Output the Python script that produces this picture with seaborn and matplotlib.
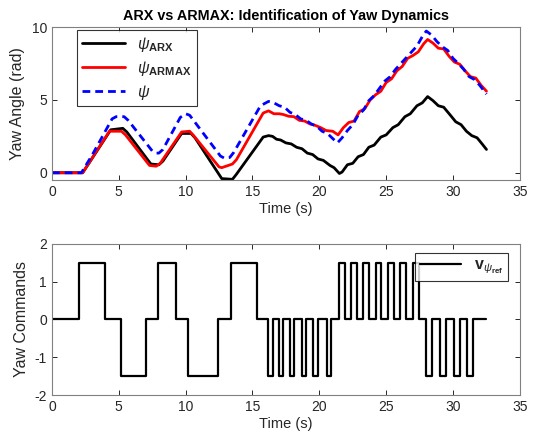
import matplotlib
matplotlib.use("Agg")
import matplotlib.pyplot as plt
import pandas as pd
import seaborn as sns

# ---------------- top panel data ----------------
t_arx = [0, 2.3, 4.4, 5.3, 5.6, 7.4, 8.0, 8.3, 9.7, 10.4, 10.7, 12.7, 13.5, 13.8, 15.8, 16.2,
         16.5, 16.8, 17.1, 17.5, 17.9, 18.3, 18.7, 19.1, 19.5, 19.9, 20.3, 20.8, 21.1, 21.5,
         21.7, 22.1, 22.5, 22.9, 23.3, 23.7, 24.1, 24.6, 25.0, 25.5, 25.9, 26.4, 26.8, 27.3, 27.7, 28.1,
         28.5, 28.9, 29.3, 29.8, 30.2, 30.6, 31.0, 31.4, 31.8, 32.2, 32.5]
psi_arx = [0, 0, 2.95, 3.05, 2.8, 0.6, 0.55, 0.8, 2.7, 2.7, 2.4, -0.4, -0.45, -0.1, 2.45, 2.55,
           2.5, 2.3, 2.25, 2.05, 1.98, 1.75, 1.65, 1.35, 1.25, 0.95, 0.85, 0.5, 0.35, -0.05,
           0.05, 0.55, 0.65, 1.1, 1.25, 1.75, 1.9, 2.45, 2.6, 3.1, 3.3, 3.85, 4.05, 4.6, 4.8, 5.23,
           4.95, 4.6, 4.5, 3.95, 3.5, 3.3, 2.85, 2.55, 2.4, 1.95, 1.6]

t_armax = [0, 2.3, 4.3, 5.2, 5.5, 7.3, 7.8, 8.1, 9.7, 10.3, 10.6, 12.5, 12.7, 13.5, 13.8, 15.8, 16.2,
           16.6, 17.0, 17.3, 17.7, 18.1, 18.5, 18.9, 19.3, 19.7, 20.1, 20.5, 21.0, 21.4,
           21.8, 22.2, 22.6, 23.0, 23.4, 23.8, 24.2, 24.6, 25.0, 25.4, 25.8, 26.2, 26.6, 27.0, 27.4, 27.8, 28.1,
           28.5, 28.9, 29.3, 29.7, 30.1, 30.5, 30.9, 31.3, 31.7, 32.1, 32.5]
psi_armax = [0, 0, 2.85, 2.85, 2.6, 0.5, 0.45, 0.65, 2.8, 2.85, 2.55, 0.4, 0.35, 0.6, 0.9, 4.1, 4.25,
             4.05, 4.05, 4.0, 3.88, 3.85, 3.6, 3.55, 3.35, 3.25, 3.1, 2.9, 2.85, 2.6,
             3.1, 3.45, 3.55, 4.2, 4.4, 5.0, 5.35, 5.6, 6.2, 6.45, 7.0, 7.3, 7.85, 8.05, 8.3, 8.85, 9.15,
             8.9, 8.55, 8.5, 8.0, 7.6, 7.45, 7.0, 6.6, 6.5, 6.0, 5.6]

t_psi = [0, 2.2, 3.0, 4.5, 4.8, 5.4, 5.7, 7.5, 7.8, 8.0, 8.3, 9.6, 10.0, 10.3, 12.6, 12.9, 13.3, 13.6, 15.6, 16.2,
         16.6, 17.0, 17.4, 17.8, 18.2, 18.6, 19.0, 19.4, 19.8, 20.2, 20.6, 21.0, 21.35,
         21.7, 22.1, 22.5, 22.9, 23.3, 23.7, 24.1, 24.5, 24.9, 25.3, 25.7, 26.1, 26.5, 26.9, 27.3, 27.7, 28.0,
         28.4, 28.8, 29.2, 29.6, 30.0, 30.4, 30.8, 31.2, 31.6, 32.0, 32.5]
psi_true = [0, 0, 1.2, 3.7, 3.85, 3.85, 3.6, 1.5, 1.35, 1.35, 1.6, 3.8, 4.05, 3.95, 1.15, 1.0, 1.05, 1.4, 4.6, 4.9,
            4.8, 4.6, 4.5, 4.15, 4.0, 3.7, 3.6, 3.35, 3.2, 2.85, 2.7, 2.35, 2.05,
            2.4, 2.9, 3.3, 3.95, 4.3, 4.95, 5.3, 5.8, 6.3, 6.6, 7.1, 7.5, 7.9, 8.3, 8.7, 9.35, 9.73,
            9.45, 9.0, 8.65, 8.4, 7.85, 7.5, 7.1, 6.6, 6.4, 6.0, 5.4]

# ---------------- bottom panel data: command switch times / levels ----------------
cmd_t = [0, 2.0, 4.0, 5.2, 7.0, 7.9, 9.3, 10.2, 12.4, 13.4, 15.35,
         16.15, 16.5, 16.95, 17.3, 17.78, 18.13, 18.68, 19.03, 19.55, 19.9, 20.55, 20.9,
         21.5, 21.9, 22.4, 22.8, 23.3, 23.7, 24.2, 24.6, 25.15, 25.55, 26.05, 26.45, 27.0, 27.42,
         28.0, 28.4, 29.0, 29.45, 30.05, 30.5, 31.05, 31.5, 32.5]
cmd_v = [0, 1.5, 0, -1.5, 0, 1.5, 0, -1.5, 0, 1.5, 0,
         -1.5, 0, -1.5, 0, -1.5, 0, -1.5, 0, -1.5, 0, -1.5, 0,
         1.5, 0, 1.5, 0, 1.5, 0, 1.5, 0, 1.5, 0, 1.5, 0, 1.5, 0,
         -1.5, 0, -1.5, 0, -1.5, 0, -1.5, 0, 0]

x_ticks = [0, 5, 10, 15, 20, 25, 30, 35]
y1_ticks = [0, 5, 10]
y2_ticks = [-2, -1, 0, 1, 2]

# ---------------- style ----------------
sns.set_style("white")
plt.rcParams["font.family"] = ["Liberation Sans", "DejaVu Sans"]
plt.rcParams["mathtext.fontset"] = "custom"
plt.rcParams["mathtext.rm"] = "Liberation Sans"
plt.rcParams["mathtext.it"] = "Liberation Sans:italic"
plt.rcParams["mathtext.bf"] = "Liberation Sans:bold"
gray = "#262626"

fig = plt.figure(figsize=(5.41, 4.37), dpi=100)
ax1 = fig.add_axes([0.096, 0.588, 0.865, 0.350])
ax2 = fig.add_axes([0.096, 0.0954, 0.865, 0.347])

df_arx = pd.DataFrame({"t": t_arx, "v": psi_arx})
df_armax = pd.DataFrame({"t": t_armax, "v": psi_armax})
df_psi = pd.DataFrame({"t": t_psi, "v": psi_true})
df_cmd = pd.DataFrame({"t": cmd_t, "v": cmd_v})

sns.lineplot(data=df_arx, x="t", y="v", ax=ax1, color="black", lw=2, sort=False,
             estimator=None, label=r"$\psi_{\mathbf{ARX}}$")
sns.lineplot(data=df_armax, x="t", y="v", ax=ax1, color="#ff0000", lw=2, sort=False,
             estimator=None, label=r"$\psi_{\mathbf{ARMAX}}$")
sns.lineplot(data=df_psi, x="t", y="v", ax=ax1, color="#0000ff", lw=2, sort=False,
             estimator=None, dashes=False, label=r"$\psi$")
ax1.lines[2].set_dashes([2.8, 1.8])

sns.lineplot(data=df_cmd, x="t", y="v", ax=ax2, color="black", lw=1.6, sort=False,
             estimator=None, drawstyle="steps-post", label=r"$\mathbf{v}_{\psi_{\mathbf{ref}}}$")

for ax in (ax1, ax2):
    ax.set_xlim(0, 35)
    ax.set_xticks(x_ticks)
    ax.set_xticklabels([str(v) for v in x_ticks])
    ax.tick_params(direction="in", length=3.5, width=0.7, colors=gray, labelsize=10,
                   top=True, right=True, bottom=True, left=True)
    for s in ax.spines.values():
        s.set_color("#808080")
        s.set_linewidth(0.8)
        s.set_visible(True)
    ax.set_xlabel("Time (s)", fontsize=10.5, color=gray, labelpad=2)

ax1.set_ylim(-0.5, 10)
ax1.set_yticks(y1_ticks)
ax1.set_yticklabels([str(v) for v in y1_ticks])
ax1.set_ylabel("Yaw Angle (rad)", fontsize=11.5, color=gray, labelpad=5)
ax1.set_title("ARX vs ARMAX: Identification of Yaw Dynamics", fontsize=10.4,
              fontweight="bold", color="black", pad=5)

ax2.set_ylim(-2, 2)
ax2.set_yticks(y2_ticks)
ax2.set_yticklabels([str(v) for v in y2_ticks])
ax2.set_ylabel("Yaw Commands", fontsize=11.5, color=gray, labelpad=4)

leg1 = ax1.legend(loc="upper left", bbox_to_anchor=(0.053, 0.98), borderaxespad=0,
                  fontsize=11.5, frameon=True, fancybox=False, handlelength=2.7,
                  handletextpad=0.8, labelspacing=0.3, borderpad=0.3)
leg1.get_frame().set_edgecolor("black")
leg1.get_frame().set_linewidth(0.8)

leg2 = ax2.legend(loc="upper right", bbox_to_anchor=(0.975, 0.94), borderaxespad=0,
                  fontsize=11.5, frameon=True, fancybox=False, handlelength=2.6,
                  handletextpad=0.8, borderpad=0.3)
leg2.get_frame().set_edgecolor("black")
leg2.get_frame().set_linewidth(0.8)

fig.savefig("out.png", dpi=100)
